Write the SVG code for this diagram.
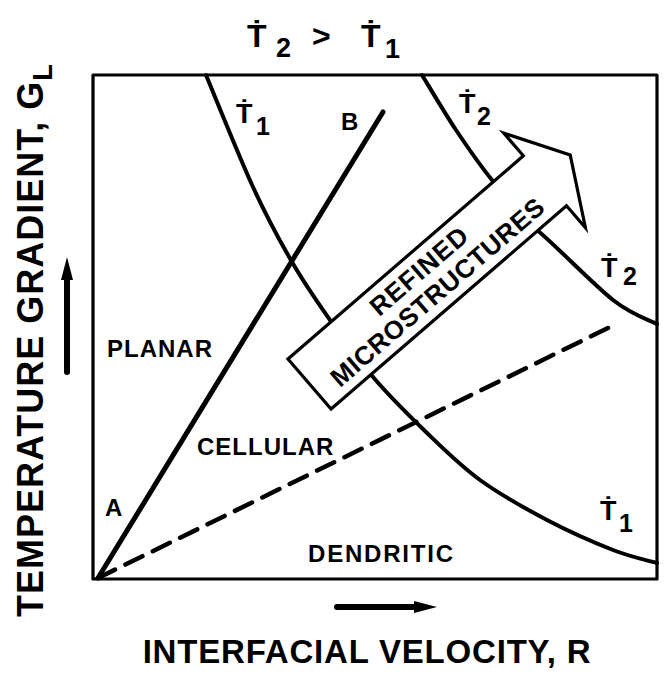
<svg xmlns="http://www.w3.org/2000/svg" width="665" height="674" viewBox="0 0 665 674">
<defs>
<style>
.t{font-family:"Liberation Sans","DejaVu Sans",Arial,sans-serif;font-weight:bold;fill:#000}
.ln{fill:none;stroke:#000;stroke-linecap:round;stroke-linejoin:round}
</style>
</defs>
<rect width="665" height="674" fill="#fff"/>
<g id="title">
<text class="t" x="247" y="47" font-size="32">Ṫ</text>
<text class="t" x="276" y="57" font-size="27">2</text>
<text class="t" x="312" y="47" font-size="32">&gt;</text>
<text class="t" x="361" y="47" font-size="32">Ṫ</text>
<text class="t" x="385" y="58" font-size="27">1</text>
</g>
<g id="frame">
<rect x="93" y="75" width="564" height="504" class="ln" stroke-width="3.2"/>
</g>
<g id="connectors">
<path id="curve-T1" class="ln" stroke-width="4" d="M206,75 C213.8,93.7 238.7,155.8 253,187 C267.3,218.2 279.2,239.8 292,262 C304.8,284.2 316.5,300.8 330,320 C343.5,339.2 357,358.3 373,377 C389,395.7 408.2,414.8 426,432 C443.8,449.2 459.8,465.3 480,480 C500.2,494.7 524.8,508.3 547,520 C569.2,531.7 594.7,542.8 613,550 C631.3,557.2 649.7,560.8 657,563"/>
<path id="curve-T2" class="ln" stroke-width="4" d="M422,75 C427.7,84.2 444.3,112.5 456,130 C467.7,147.5 478.5,163.3 492,180 C505.5,196.7 516.8,213.3 537,230 C557.2,246.7 593,284.3 613,300 C633,315.7 649.7,320 657,324"/>
<line id="line-AB" class="ln" stroke-width="5" x1="98" y1="578" x2="383" y2="112"/>
<line id="line-dashed" class="ln" stroke-width="4.5" stroke-linecap="butt" stroke-dasharray="19 11.5" x1="98" y1="578" x2="608" y2="328"/>
</g>
<g id="refined-arrow" transform="translate(309.5,384) rotate(-40.8)">
<polygon points="0,-33 311,-33 311,-63 347,-3 311,62 311,33 0,33" fill="#fff" stroke="#000" stroke-width="3.2" stroke-linejoin="miter"/>
<text class="t" x="157" y="-5" font-size="26" text-anchor="middle" letter-spacing="1">REFINED</text>
<text class="t" x="157" y="23" font-size="26" text-anchor="middle" letter-spacing="0.6">MICROSTRUCTURES</text>
</g>
<g id="region-labels">
<text class="t" x="107" y="357" font-size="24" letter-spacing="1">PLANAR</text>
<text class="t" x="197" y="455" font-size="24" letter-spacing="1">CELLULAR</text>
<text class="t" x="308" y="562" font-size="24" letter-spacing="1.8">DENDRITIC</text>
<text class="t" x="105" y="516" font-size="24">A</text>
<text class="t" x="341" y="130" font-size="24">B</text>
</g>
<g id="curve-labels">
<text class="t" x="236" y="123" font-size="27">Ṫ</text>
<text class="t" x="256" y="135" font-size="25">1</text>
<text class="t" x="459" y="113" font-size="27">Ṫ</text>
<text class="t" x="477" y="125" font-size="25">2</text>
<text class="t" x="601" y="277" font-size="27">Ṫ</text>
<text class="t" x="623" y="285" font-size="25">2</text>
<text class="t" x="600" y="520" font-size="27">Ṫ</text>
<text class="t" x="619" y="532" font-size="25">1</text>
</g>
<g id="axes">
<line class="ln" stroke-width="6" x1="67" y1="372" x2="67" y2="275"/>
<polygon points="67,257 73,280 61,280" fill="#000"/>
<line class="ln" stroke-width="6" x1="337" y1="607" x2="418" y2="607"/>
<polygon points="437,607 414,613 414,601" fill="#000"/>
<text class="t" x="0" y="0" font-size="36" letter-spacing="1" transform="translate(43,617) rotate(-90)">TEMPERATURE GRADIENT, G<tspan font-size="27" dy="9">L</tspan></text>
<text class="t" x="367" y="663" font-size="33" letter-spacing="0.8" text-anchor="middle">INTERFACIAL VELOCITY, R</text>
</g>
</svg>
